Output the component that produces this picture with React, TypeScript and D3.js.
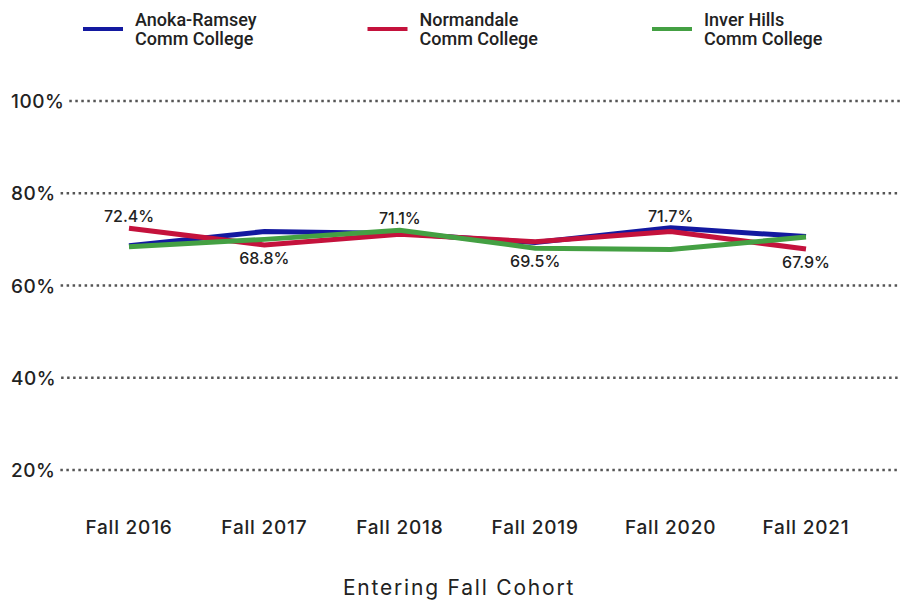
// @ts-nocheck
import React, { useEffect, useRef } from "react";
import { select, scaleLinear, scalePoint, line, min, max } from "d3";

const cohorts = ["Fall 2016", "Fall 2017", "Fall 2018", "Fall 2019", "Fall 2020", "Fall 2021"];
const anokaRamsey = [68.6, 71.7, 71.3, 69.3, 72.5, 70.6];
const normandale = [72.4, 68.8, 71.1, 69.5, 71.7, 67.9];
const inverHills = [68.4, 70.0, 72.0, 68.1, 67.8, 70.5];
const yTicks = [20, 40, 60, 80, 100];
const labelSide = ["above", "below", "above", "below", "above", "below"];

const seriesList = [
  { name: ["Anoka-Ramsey", "Comm College"], values: anokaRamsey, color: "#1319a0" },
  { name: ["Normandale", "Comm College"], values: normandale, color: "#c4123c" },
  { name: ["Inver Hills", "Comm College"], values: inverHills, color: "#44a043" },
];

const W = 901;
const H = 600;
const FONT = "Inter, 'Open Sans', sans-serif";

const App = () => {
  const ref = useRef(null);

  useEffect(() => {
    const svg = select(ref.current);
    svg.selectAll("*").remove();

    const x = scalePoint().domain(cohorts).range([129, 806]);
    const y = scaleLinear().domain([20, 100]).range([470, 101]);

    // y gridlines + labels (labels left aligned, dotted line starts after text)
    const grid = svg.append("g");
    yTicks.forEach((t) => {
      const txt = grid
        .append("text")
        .attr("x", 11)
        .attr("y", y(t) + 7)
        .attr("font-family", FONT)
        .attr("font-size", 19)
        .attr("font-weight", 500)
        .attr("letter-spacing", 0.5)
        .attr("fill", "#222")
        .text(t + "%");
      const w = txt.node().getComputedTextLength();
      grid
        .append("line")
        .attr("x1", 11 + w + 5)
        .attr("x2", 900)
        .attr("y1", y(t))
        .attr("y2", y(t))
        .attr("stroke", "#555")
        .attr("stroke-width", 2.5)
        .attr("stroke-dasharray", "2.5,3.5");
    });

    // x labels
    svg
      .append("g")
      .selectAll("text")
      .data(cohorts)
      .join("text")
      .attr("x", (d) => x(d))
      .attr("y", 534)
      .attr("text-anchor", "middle")
      .attr("font-family", FONT)
      .attr("font-size", 19)
      .attr("font-weight", 500)
      .attr("letter-spacing", 0.8)
      .attr("fill", "#222")
      .text((d) => d);

    svg
      .append("text")
      .attr("x", 459)
      .attr("y", 595)
      .attr("text-anchor", "middle")
      .attr("font-family", FONT)
      .attr("font-size", 21)
      .attr("font-weight", 400)
      .attr("letter-spacing", 1.8)
      .attr("fill", "#222")
      .text("Entering Fall Cohort");

    // lines
    const gen = line()
      .x((d, i) => x(cohorts[i]))
      .y((d) => y(d));
    seriesList.forEach((s) => {
      svg
        .append("path")
        .datum(s.values)
        .attr("fill", "none")
        .attr("stroke", s.color)
        .attr("stroke-width", 5)
        .attr("d", gen);
    });

    // data labels (Normandale values), placed beyond the outermost line
    svg
      .append("g")
      .selectAll("text")
      .data(normandale)
      .join("text")
      .attr("x", (d, i) => x(cohorts[i]))
      .attr("y", (d, i) => {
        const vals = seriesList.map((s) => y(s.values[i]));
        return labelSide[i] === "above" ? min(vals) - 6 : max(vals) + 19;
      })
      .attr("text-anchor", "middle")
      .attr("font-family", FONT)
      .attr("font-size", 16)
      .attr("font-weight", 500)
      .attr("fill", "#222")
      .text((d) => d.toFixed(1) + "%");

    // legend
    const legend = svg
      .append("g")
      .selectAll("g")
      .data(seriesList)
      .join("g")
      .attr("transform", (d, i) => `translate(${83 + i * 284.5},0)`);
    legend
      .append("line")
      .attr("x1", 0)
      .attr("x2", 40)
      .attr("y1", 29)
      .attr("y2", 29)
      .attr("stroke", (d) => d.color)
      .attr("stroke-width", 4);
    legend
      .append("text")
      .attr("font-family", "Roboto, sans-serif")
      .attr("font-size", 18)
      .attr("font-weight", 500)
      .attr("fill", "#222")
      .selectAll("tspan")
      .data((d) => d.name)
      .join("tspan")
      .attr("x", 52)
      .attr("y", (d, i) => 26 + i * 19)
      .text((d) => d);
  }, []);

  return (
    <div style={{ position: "fixed", left: 0, top: 0 }}>
      <svg ref={ref} width={W} height={H} style={{ display: "block", background: "#fff" }} />
    </div>
  );
};

export default App;
